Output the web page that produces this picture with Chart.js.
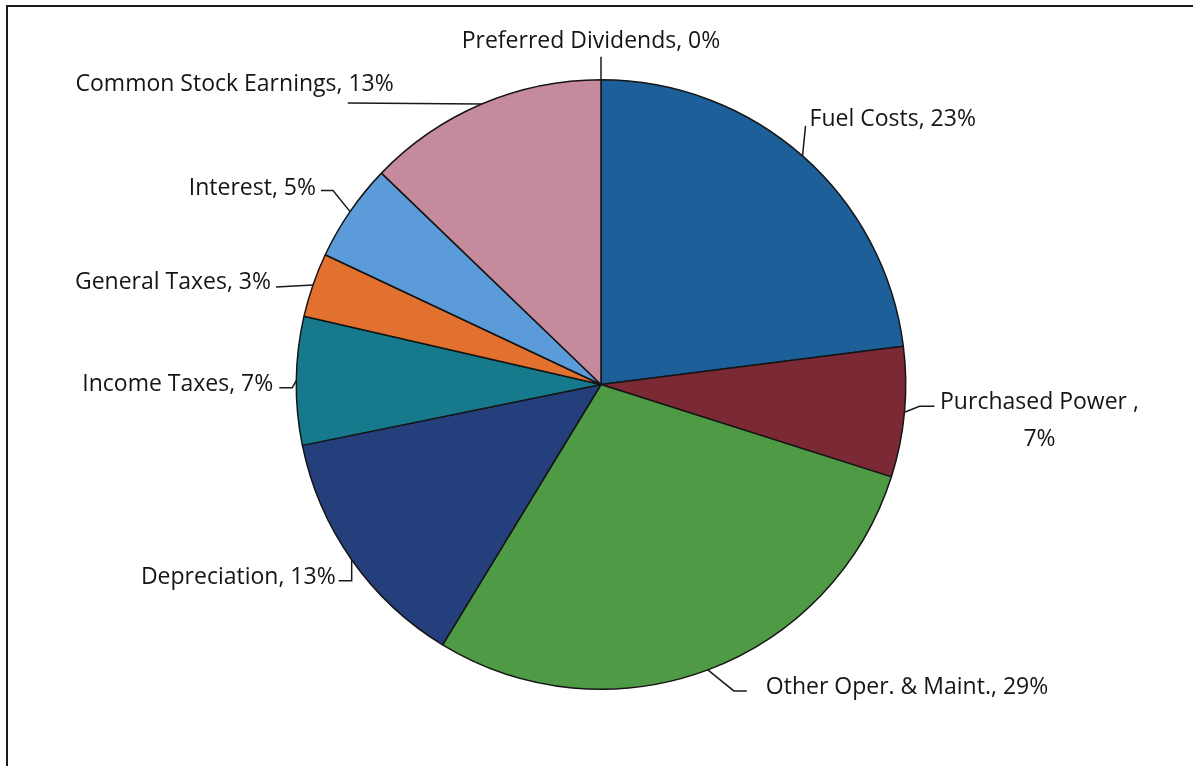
<!DOCTYPE html>
<html><head><meta charset="utf-8">
<script src="https://cdn.jsdelivr.net/npm/chart.js@4.4.1/dist/chart.umd.min.js"></script>
<style>html,body{margin:0;padding:0;background:#fff}</style>
</head><body>
<canvas id="c" width="1193" height="766"></canvas>
<script>
// ---- data ----
const categories = ["Fuel Costs", "Purchased Power ", "Other Oper. & Maint.", "Depreciation", "Income Taxes", "General Taxes", "Interest", "Common Stock Earnings", "Preferred Dividends"];
const values = [23.0, 6.9, 28.8, 13.1, 6.8, 3.4, 5.2, 12.8, 0.0];
const percentLabels = ["23%", "7%", "29%", "13%", "7%", "3%", "5%", "13%", "0%"];
const colors = ["#1d5f98", "#7b2a35", "#4f9a45", "#253f7c", "#167a8c", "#e2712f", "#5c9bd9", "#c58b9c", "#888888"];

// label layout (offsets from each slice's outer mid-point): leader path points, text anchor, alignment, line break
const labelLayout = [
  {path: [[3, -30]], text: [7, -39], align: "left", wrap: false},
  {path: [[15, -6], [30, -6]], text: [135, -12], align: "center", wrap: true},
  {path: [[26, 21], [39, 21]], text: [58, 15], align: "left", wrap: false},
  {path: [[0, 21], [-13, 21]], text: [-16, 15], align: "right", wrap: false},
  {path: [[-4, 7], [-17, 7]], text: [-23, 1], align: "right", wrap: false},
  {path: [[-37, 2]], text: [-42, -5], align: "right", wrap: false},
  {path: [[-17, -21], [-29, -21]], text: [-34, -26], align: "right", wrap: false},
  {path: [[-134, -1]], text: [-88, -22], align: "right", wrap: false},
  {path: [[0, -23]], text: [-10, -41], align: "center", wrap: false}
];

const FONT = '23px "Open Sans", "Noto Sans", sans-serif';
const TEXT_SHIFT = 2.5;

const framePlugin = {
  id: "frame",
  beforeDraw(chart) {
    const ctx = chart.ctx;
    ctx.save();
    ctx.fillStyle = "#ffffff";
    ctx.fillRect(0, 0, chart.width, chart.height);
    ctx.strokeStyle = "#1a1a1a";
    ctx.lineWidth = 2;
    ctx.beginPath();
    ctx.moveTo(7, chart.height);
    ctx.lineTo(7, 6);
    ctx.lineTo(chart.width, 6);
    ctx.stroke();
    ctx.restore();
  }
};

const leaderPlugin = {
  id: "leaders",
  afterDatasetsDraw(chart) {
    const ctx = chart.ctx;
    const meta = chart.getDatasetMeta(0);
    ctx.save();
    ctx.font = FONT;
    ctx.fillStyle = "#151515";
    ctx.strokeStyle = "#1a1a1a";
    ctx.lineWidth = 1.5;
    ctx.textBaseline = "middle";
    meta.data.forEach((arc, i) => {
      const p = arc.getProps(["x", "y", "startAngle", "endAngle", "outerRadius"], true);
      const mid = (p.startAngle + p.endAngle) / 2;
      const ax = p.x + Math.cos(mid) * p.outerRadius;
      const ay = p.y + Math.sin(mid) * p.outerRadius;
      const L = labelLayout[i];
      ctx.beginPath();
      ctx.moveTo(ax, ay);
      L.path.forEach(([dx, dy]) => ctx.lineTo(ax + dx, ay + dy));
      ctx.stroke();
      ctx.textAlign = L.align;
      const tx = ax + L.text[0], ty = ay + L.text[1] + TEXT_SHIFT;
      if (L.wrap) {
        ctx.fillText(categories[i] + ",", tx, ty);
        ctx.fillText(percentLabels[i], tx, ty + 37);
      } else {
        ctx.fillText(categories[i] + ", " + percentLabels[i], tx, ty);
      }
    });
    ctx.restore();
  }
};

new Chart(document.getElementById("c"), {
  type: "pie",
  data: {
    labels: categories,
    datasets: [{
      data: values,
      backgroundColor: colors,
      borderColor: "#151515",
      borderWidth: 1.5,
      borderAlign: "center"
    }]
  },
  options: {
    responsive: false,
    animation: false,
    layout: {padding: {top: 79, bottom: 76, left: 100, right: 91}},
    plugins: {legend: {display: false}, tooltip: {enabled: false}}
  },
  plugins: [framePlugin, leaderPlugin]
});
</script>
</body></html>
